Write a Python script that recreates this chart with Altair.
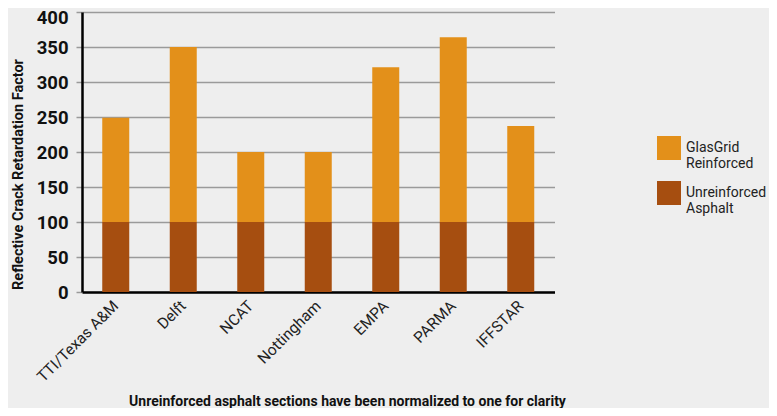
import altair as alt
import pandas as pd

sites = ["TTI/Texas A&M", "Delft", "NCAT", "Nottingham", "EMPA", "PARMA", "IFFSTAR"]
unreinforced = [100, 100, 100, 100, 100, 100, 100]
reinforced = [149, 250, 100, 100, 221, 264, 137]
series = ["GlasGrid Reinforced", "Unreinforced Asphalt"]
colors = ["#E3901A", "#A64E10"]
y_ticks = [0, 50, 100, 150, 200, 250, 300, 350, 400]

rows = []
for s, u, r in zip(sites, unreinforced, reinforced):
    rows.append({"site": s, "series": series[1], "value": u, "ord": 0})
    rows.append({"site": s, "series": series[0], "value": r, "ord": 1})
df = pd.DataFrame(rows)

FONT = "Roboto"

chart = alt.Chart(df).mark_bar().encode(
    x=alt.X(
        "site:N",
        sort=sites,
        scale=alt.Scale(range=[0, 472.5], paddingInner=0.6, paddingOuter=0.3),
        axis=alt.Axis(
            title="Unreinforced asphalt sections have been normalized to one for clarity",
            titleFont=FONT, titleFontSize=14, titleFontWeight="bold", titleColor="#111",
            titleX=265, titleY=109, titleBaseline="middle", titleAnchor="middle",
            labelAngle=-45, labelAlign="right", labelBaseline="middle",
            labelFont=FONT, labelFontSize=15.5, labelColor="#222", labelPadding=11,
            ticks=False, domainColor="#000", domainWidth=2.5, grid=False,
        ),
    ),
    y=alt.Y(
        "value:Q",
        stack=True,
        scale=alt.Scale(domain=[0, 400], nice=False),
        axis=alt.Axis(
            title="Reflective Crack Retardation Factor",
            titleFont=FONT, titleFontSize=14.5, titleFontWeight="bold", titleColor="#111",
            titleX=-64, titleY=162, titleAngle=-90, titleAlign="center", titleBaseline="middle",
            values=y_ticks, labelFont=FONT, labelFontSize=18.5, labelFontWeight="bold",
            labelColor="#111", labelPadding=8,
            labelOffset={"condition": {"test": "datum.value == 400", "value": 5}, "value": 0},
            tickSize=6, tickColor="#9a9a9a", tickWidth=1.5,
            grid=True, gridColor="#9a9a9a", gridWidth=1.5,
            domainColor="#000", domainWidth=2.5,
        ),
    ),
    color=alt.Color(
        "series:N",
        scale=alt.Scale(domain=series, range=colors),
        legend=alt.Legend(
            title=None, orient="none", legendX=575, legendY=124,
            symbolType="square", symbolSize=576, symbolStrokeWidth=0, symbolOpacity=1,
            labelFont=FONT, labelFontSize=14, labelColor="#222", labelOffset=5,
            labelExpr="split(datum.label, ' ')", labelLimit=200,
            rowPadding=10, padding=0,
        ),
    ),
    order=alt.Order("ord:Q"),
).properties(
    width=546, height=280,
    autosize=alt.AutoSizeParams(type="none"),
    padding={"left": 74, "top": 4, "right": 141, "bottom": 116},
    background="#EEEEEE",
).configure_view(stroke=None)

chart.save("out.html", embed_options={"renderer": "svg", "actions": False})
